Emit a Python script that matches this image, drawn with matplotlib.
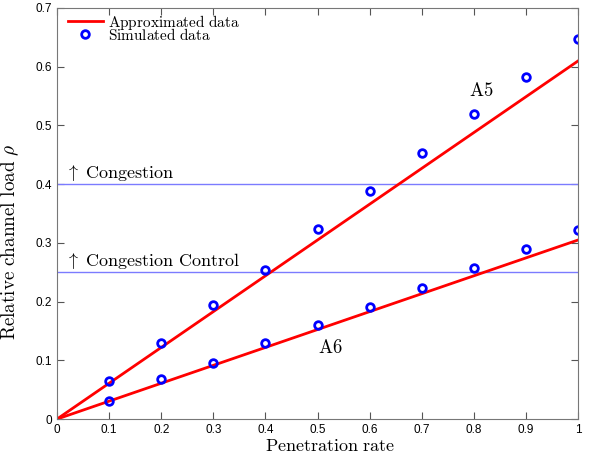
import numpy as np
import matplotlib.pyplot as plt

plt.rcParams['mathtext.fontset'] = 'cm'
plt.rcParams['font.family'] = ['Liberation Sans', 'DejaVu Sans']

penetration = [0.1, 0.2, 0.3, 0.4, 0.5, 0.6, 0.7, 0.8, 0.9, 1.0]
sim_a5 = [0.065, 0.129, 0.194, 0.254, 0.323, 0.388, 0.453, 0.519, 0.582, 0.648]
sim_a6 = [0.031, 0.068, 0.095, 0.129, 0.160, 0.191, 0.224, 0.257, 0.290, 0.322]
approx_x = [0.0, 1.0]
approx_a5 = [0.0, 0.61]
approx_a6 = [0.0, 0.305]
congestion = 0.4
congestion_control = 0.25

fig = plt.figure(figsize=(5.9, 4.57), dpi=100)
ax = fig.add_axes([0.0966, 0.083, 0.8834, 0.8995])

ax.axhline(congestion, color='#7b7bff', linewidth=1.0)
ax.axhline(congestion_control, color='#7b7bff', linewidth=1.0)

ax.plot(approx_x, approx_a5, color='red', linewidth=2, label=r'$\mathrm{Approximated\ data}$')
ax.plot(penetration, sim_a5, 'o', color='blue', markerfacecolor='none',
        markeredgewidth=2, markersize=5.5, label=r'$\mathrm{Simulated\ data}$')
ax.plot(approx_x, approx_a6, color='red', linewidth=2)
ax.plot(penetration, sim_a6, 'o', color='blue', markerfacecolor='none',
        markeredgewidth=2, markersize=5.5)

# annotations
ax.text(0.015, 0.41, r'$\uparrow\ \mathrm{Congestion}$', fontsize=13)
ax.text(0.015, 0.26, r'$\uparrow\ \mathrm{Congestion\ Control}$', fontsize=13)
ax.text(0.79, 0.55, r'$\mathrm{A5}$', fontsize=13.5)
ax.text(0.5, 0.113, r'$\mathrm{A6}$', fontsize=13.5)

ax.set_xlim(0, 1)
ax.set_ylim(0, 0.7)
ax.set_xticks(np.arange(0, 1.01, 0.1))
ax.set_xticklabels(['0', '0.1', '0.2', '0.3', '0.4', '0.5', '0.6', '0.7', '0.8', '0.9', '1'])
ax.set_yticks(np.arange(0, 0.71, 0.1))
ax.set_yticklabels(['0', '0.1', '0.2', '0.3', '0.4', '0.5', '0.6', '0.7'])
ax.tick_params(direction='in', top=True, right=True, labelsize=8.5, colors='#555555',
               labelcolor='black', length=5)
for s in ax.spines.values():
    s.set_color('#777777')

ax.set_xlabel(r'$\mathrm{Penetration\ rate}$', fontsize=13)
ax.set_ylabel(r'$\mathrm{Relative\ channel\ load}\ \rho$', fontsize=13.8)
ax.xaxis.set_label_coords(0.524, -0.045)
ax.yaxis.set_label_coords(-0.07, 0.43)

ax.legend(loc='upper left', bbox_to_anchor=(0.012, 1.0), frameon=False, fontsize=11,
          handlelength=2.3, borderaxespad=0.0, labelspacing=-0.32, handletextpad=0.3,
          borderpad=0.3)

fig.savefig('out.png', dpi=100)
